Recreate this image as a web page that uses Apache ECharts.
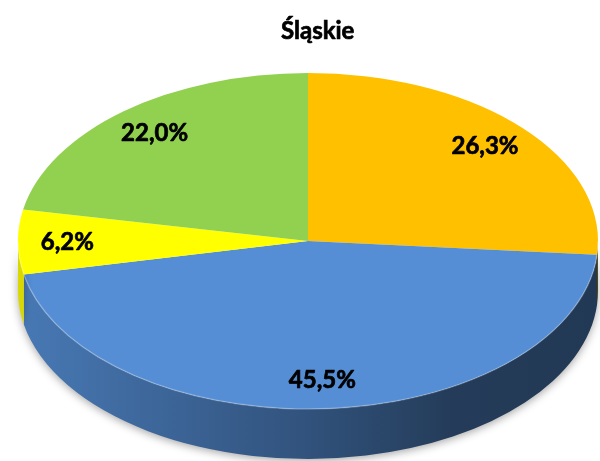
<!DOCTYPE html>
<html>
<head>
<meta charset="utf-8">
<script src="https://cdn.jsdelivr.net/npm/echarts@6/dist/echarts.min.js"></script>
<style>
  html, body { margin: 0; padding: 0; background: #fff; }
  #chart { width: 600px; height: 461px; }
</style>
</head>
<body>
<div id="chart"></div>
<script>
// dane: udział procentowy (Śląskie)
var names = ['A', 'B', 'C', 'D']
var values = [26.3, 45.5, 6.2, 22.0]
var labels = ['26,3%', '45,5%', '6,2%', '22,0%']
var colors = ['#FFC000', '#558ED5', '#FFFF00', '#92D050']

// elipsa "3D"
var cx = 308, cy = 241, rx = 290, ry = 168, depth = 50

var total = values.reduce(function (s, v) { return s + v }, 0)
var starts = [], ends = []
var acc = 0
values.forEach(function (v) {
  starts.push(acc / total * Math.PI * 2)
  acc += v
  ends.push(acc / total * Math.PI * 2)
})

function pt (t, dy) {
  return [cx + rx * Math.sin(t), cy - ry * Math.cos(t) + (dy || 0)]
}

function shade (hex, k) {
  var n = parseInt(hex.slice(1), 16)
  var r = Math.round(((n >> 16) & 255) * k)
  var g = Math.round(((n >> 8) & 255) * k)
  var b = Math.round((n & 255) * k)
  return 'rgb(' + r + ',' + g + ',' + b + ')'
}

function renderItem (params, api) {
  var i = params.dataIndex
  var a = starts[i], b = ends[i]
  var p1 = pt(a), p2 = pt(b)
  var large = (b - a) > Math.PI ? 1 : 0
  var children = []

  // bok
  var sa = Math.max(a, Math.PI / 2), sb = Math.min(b, Math.PI * 1.5)
  if (sa < sb) {
    var q1 = pt(sa), q2 = pt(sb), q3 = pt(sb, depth), q4 = pt(sa, depth)
    children.push({
      type: 'path',
      shape: {
        pathData: 'M' + q1[0] + ' ' + q1[1] +
          ' A' + rx + ' ' + ry + ' 0 0 1 ' + q2[0] + ' ' + q2[1] +
          ' L' + q3[0] + ' ' + q3[1] +
          ' A' + rx + ' ' + ry + ' 0 0 0 ' + q4[0] + ' ' + q4[1] + ' Z'
      },
      style: {
        fill: new echarts.graphic.LinearGradient(cx - rx, 0, cx + rx, 0, [
          { offset: 0, color: shade(colors[i], 0.85) },
          { offset: 0.5, color: shade(colors[i], 0.58) },
          { offset: 0.75, color: shade(colors[i], 0.42) },
          { offset: 1, color: shade(colors[i], 0.4) }
        ], true),
        shadowBlur: 8,
        shadowOffsetY: 2,
        shadowColor: 'rgba(0,0,0,0.35)'
      }
    })
  }

  // wierzch
  children.push({
    type: 'path',
    shape: {
      pathData: 'M' + cx + ' ' + cy + ' L' + p1[0] + ' ' + p1[1] +
        ' A' + rx + ' ' + ry + ' 0 ' + large + ' 1 ' + p2[0] + ' ' + p2[1] + ' Z'
    },
    style: { fill: colors[i] }
  })

  // jasna krawędź z przodu
  if (sa < sb) {
    var e1 = pt(sa), e2 = pt(sb)
    children.push({
      type: 'path',
      shape: {
        pathData: 'M' + e1[0] + ' ' + e1[1] +
          ' A' + rx + ' ' + ry + ' 0 0 1 ' + e2[0] + ' ' + e2[1]
      },
      style: { fill: null, stroke: 'rgba(255,255,255,0.25)', lineWidth: 1.5 }
    })
  }

  // etykieta
  var mid = (a + b) / 2
  var lp = [cx + rx * 0.83 * Math.sin(mid), cy - ry * 0.83 * Math.cos(mid)]
  children.push({
    type: 'text',
    z2: 10,
    style: {
      text: labels[i],
      x: lp[0],
      y: lp[1],
      fill: '#000',
      stroke: '#000',
      lineWidth: 0.7,
      font: 'bold 24px Lato',
      align: 'center',
      verticalAlign: 'middle'
    }
  })

  return { type: 'group', children: children }
}

var chart = echarts.init(document.getElementById('chart'))
chart.setOption({
  animation: false,
  title: {
    text: 'Śląskie',
    left: 276,
    top: 14,
    textStyle: {
      fontFamily: 'Lato', fontWeight: 'bold', fontSize: 24, color: '#000',
      textBorderColor: '#000', textBorderWidth: 0.7
    }
  },
  series: [{
    type: 'custom',
    coordinateSystem: 'none',
    renderItem: renderItem,
    data: values.map(function (v, i) { return { name: names[i], value: v } })
  }]
})
</script>
</body>
</html>
